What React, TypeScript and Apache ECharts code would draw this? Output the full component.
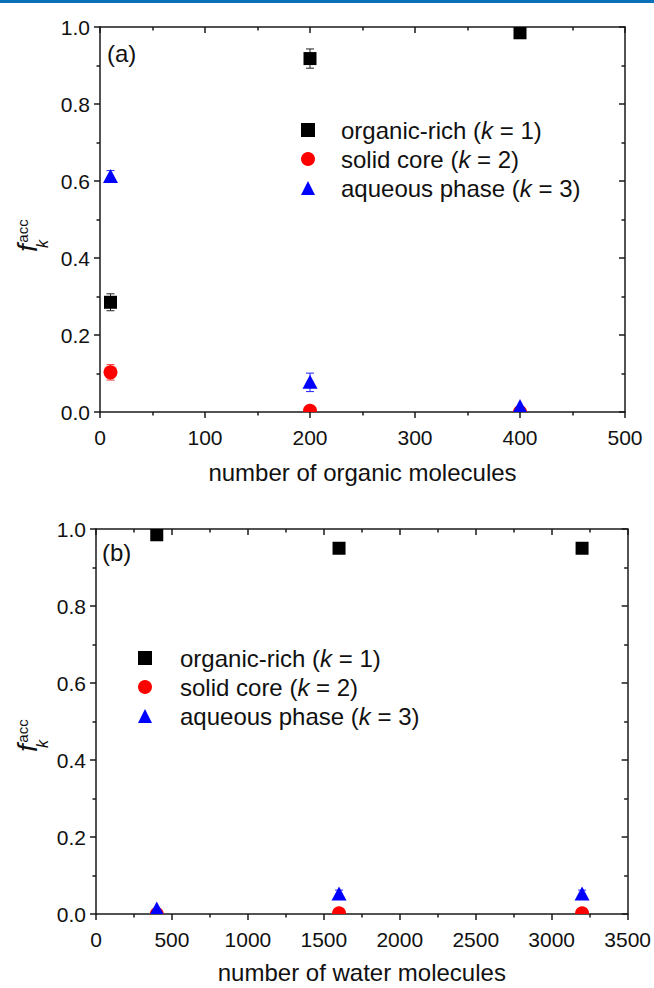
import React, { useEffect, useRef } from "react";
import * as echarts from "echarts";

// Panel (a): number of organic molecules
const organicCounts = [10, 200, 400];
const richA = [0.285, 0.918, 0.985];
const richAErr = [0.022, 0.025, 0];
const coreA = [0.103, 0.003, 0.0];
const coreAErr = [0.02, 0, 0];
const aqA = [0.612, 0.077, 0.014];
const aqAErr = [0.015, 0.024, 0];

// Panel (b): number of water molecules
const waterCounts = [400, 1600, 3200];
const richB = [0.985, 0.95, 0.95];
const richBErr = [0, 0, 0];
const coreB = [0.0, 0.002, 0.002];
const coreBErr = [0, 0, 0];
const aqB = [0.013, 0.052, 0.052];
const aqBErr = [0, 0.01, 0.01];

const yTicks = ["0.0", "0.2", "0.4", "0.6", "0.8", "1.0"];

const NAMES = ["organic-rich", "solid core", "aqueous phase"];
const LEGEND_TEXT: Record<string, string> = {
  "organic-rich": "organic-rich ({i|k} = 1)",
  "solid core": "solid core ({i|k} = 2)",
  "aqueous phase": "aqueous phase ({i|k} = 3)",
};
const COLORS = ["#000000", "#ff0000", "#0000ff"];
const BAR_COLORS = ["#222222", "#ff3030", "#2020ff"];
const SYMBOLS = ["rect", "circle", "triangle"];

const FONT = "Liberation Sans, Arial, sans-serif";
const AXIS_COLOR = "#1a1a1a";

function triples(xs: number[], ys: number[], es: number[]) {
  return xs.map((x, i) => [x, ys[i], es[i]]);
}

// Marker + optional error bar, drawn inside a clipped cartesian grid
function markerSeries(i: number, data: number[][], gi: number) {
  const color = COLORS[i];
  const barColor = BAR_COLORS[i];
  return {
    type: "custom",
    name: NAMES[i],
    xAxisIndex: gi * 2,
    yAxisIndex: gi * 2,
    clip: true,
    itemStyle: { color },
    data,
    encode: { x: 0, y: 1 },
    renderItem: (_p: any, api: any) => {
      const x = api.value(0);
      const y = api.value(1);
      const e = api.value(2);
      const c = api.coord([x, y]);
      const children: any[] = [];
      if (e > 0) {
        const hi = api.coord([x, y + e]);
        const lo = api.coord([x, y - e]);
        const hw = 4;
        const st = { stroke: barColor, lineWidth: 1 };
        children.push(
          { type: "line", shape: { x1: hi[0], y1: hi[1], x2: lo[0], y2: lo[1] }, style: st },
          { type: "line", shape: { x1: hi[0] - hw, y1: hi[1], x2: hi[0] + hw, y2: hi[1] }, style: st },
          { type: "line", shape: { x1: lo[0] - hw, y1: lo[1], x2: lo[0] + hw, y2: lo[1] }, style: st }
        );
      }
      if (SYMBOLS[i] === "rect") {
        children.push({
          type: "rect",
          shape: { x: c[0] - 6.5, y: c[1] - 6.5, width: 13, height: 13 },
          style: { fill: color },
        });
      } else if (SYMBOLS[i] === "circle") {
        children.push({ type: "circle", shape: { cx: c[0], cy: c[1], r: 7 }, style: { fill: color } });
      } else {
        children.push({
          type: "polygon",
          shape: {
            points: [
              [c[0], c[1] - 7.5],
              [c[0] - 7.5, c[1] + 6.5],
              [c[0] + 7.5, c[1] + 6.5],
            ],
          },
          style: { fill: color },
        });
      }
      return { type: "group", children };
    },
  };
}

const tickLabelStyle = { color: "#111", fontSize: 21, fontFamily: FONT };
const tickLine = { color: AXIS_COLOR, width: 1.5 };

function axesFor(gi: number, max: number, interval: number, name: string, nameGap: number) {
  const line = { show: true, onZero: false, lineStyle: { color: AXIS_COLOR, width: 1.5 } };
  const common = {
    type: "value",
    gridIndex: gi,
    axisLine: line,
    splitLine: { show: false },
  };
  const bottom = {
    ...common,
    position: "bottom",
    min: 0,
    max,
    interval,
    axisTick: { show: true, inside: false, length: 6, lineStyle: tickLine },
    minorTick: { show: true, splitNumber: 2, length: 3.5, lineStyle: tickLine },
    axisLabel: { ...tickLabelStyle, margin: 15, formatter: (v: number) => String(v) },
    name,
    nameLocation: "middle",
    nameGap,
    nameTextStyle: { color: "#111", fontSize: 24, fontFamily: FONT },
  };
  const top = {
    ...common,
    position: "top",
    min: 0,
    max,
    interval,
    axisTick: { show: true, inside: true, length: 6, lineStyle: tickLine },
    minorTick: { show: true, splitNumber: 2, length: 3.5, lineStyle: tickLine },
    axisLabel: { show: false },
  };
  const left = {
    ...common,
    position: "left",
    min: 0,
    max: 1,
    interval: 0.2,
    axisTick: { show: true, inside: false, length: 6, lineStyle: tickLine },
    minorTick: { show: true, splitNumber: 2, length: 3.5, lineStyle: tickLine },
    axisLabel: {
      ...tickLabelStyle,
      margin: 10,
      formatter: (v: number) => yTicks[Math.round(v / 0.2)] ?? v.toFixed(1),
    },
  };
  const right = {
    ...common,
    position: "right",
    min: 0,
    max: 1,
    interval: 0.2,
    axisTick: { show: true, inside: true, length: 6, lineStyle: tickLine },
    minorTick: { show: true, splitNumber: 2, length: 3.5, lineStyle: tickLine },
    axisLabel: { show: false },
  };
  return { x: [bottom, top], y: [left, right] };
}

function legendAt(left: number, top: number, textPad: number) {
  return {
    orient: "vertical",
    left,
    top,
    padding: 0,
    itemWidth: 14,
    itemHeight: 14,
    itemGap: 5,
    selectedMode: false,
    data: NAMES.map((n, i) => ({ name: n, icon: SYMBOLS[i] })),
    formatter: (n: string) => LEGEND_TEXT[n],
    textStyle: {
      color: "#111",
      fontSize: 24,
      fontFamily: FONT,
      lineHeight: 24,
      padding: [0, 0, 0, textPad],
      rich: { i: { fontStyle: "italic", fontSize: 24, fontFamily: FONT, color: "#111", lineHeight: 24 } },
    },
  };
}

function yTitle(cx: number, cy: number) {
  const rot = Math.PI / 2;
  return [
    {
      type: "text",
      x: cx,
      y: cy + 17,
      rotation: rot,
      style: { text: "f", font: `italic 28px ${FONT}`, fill: "#111", textAlign: "center", textVerticalAlign: "middle" },
    },
    {
      type: "text",
      x: cx - 5,
      y: cy,
      rotation: rot,
      style: { text: "acc", font: `15px ${FONT}`, fill: "#111", textAlign: "center", textVerticalAlign: "middle" },
    },
    {
      type: "text",
      x: cx + 15,
      y: cy + 13,
      rotation: rot,
      style: { text: "k", font: `italic 16px ${FONT}`, fill: "#111", textAlign: "center", textVerticalAlign: "middle" },
    },
  ];
}

export default function App() {
  const ref = useRef<HTMLDivElement>(null);

  useEffect(() => {
    if (!ref.current) return;
    const chart = echarts.init(ref.current, undefined, { renderer: "svg" });

    const a = axesFor(0, 500, 100, "number of organic molecules", 48);
    const b = axesFor(1, 3500, 500, "number of water molecules", 46);

    chart.setOption({
      animation: false,
      backgroundColor: "#ffffff",
      textStyle: { fontFamily: FONT },
      grid: [
        { left: 100, top: 27, width: 525, height: 385 },
        { left: 96, top: 529, width: 532, height: 385 },
      ],
      xAxis: [...a.x, ...b.x],
      yAxis: [...a.y, ...b.y],
      legend: [legendAt(301, 118, 21), legendAt(138, 646, 23)],
      series: [
        markerSeries(0, triples(organicCounts, richA, richAErr), 0),
        markerSeries(1, triples(organicCounts, coreA, coreAErr), 0),
        markerSeries(2, triples(organicCounts, aqA, aqAErr), 0),
        markerSeries(0, triples(waterCounts, richB, richBErr), 1),
        markerSeries(1, triples(waterCounts, coreB, coreBErr), 1),
        markerSeries(2, triples(waterCounts, aqB, aqBErr), 1),
      ],
      graphic: [
        { type: "rect", shape: { x: 0, y: 0, width: 654, height: 3 }, style: { fill: "#0a70b8" } },
        {
          type: "text",
          x: 107,
          y: 53,
          style: { text: "(a)", font: `24px ${FONT}`, fill: "#111", textVerticalAlign: "middle" },
        },
        {
          type: "text",
          x: 102,
          y: 552,
          style: { text: "(b)", font: `24px ${FONT}`, fill: "#111", textVerticalAlign: "middle" },
        },
        ...yTitle(27, 231),
        ...yTitle(27, 731),
      ],
    });

    return () => chart.dispose();
  }, []);

  return (
    <div
      ref={ref}
      style={{ position: "absolute", left: 0, top: 0, width: 654, height: 988 }}
    />
  );
}
